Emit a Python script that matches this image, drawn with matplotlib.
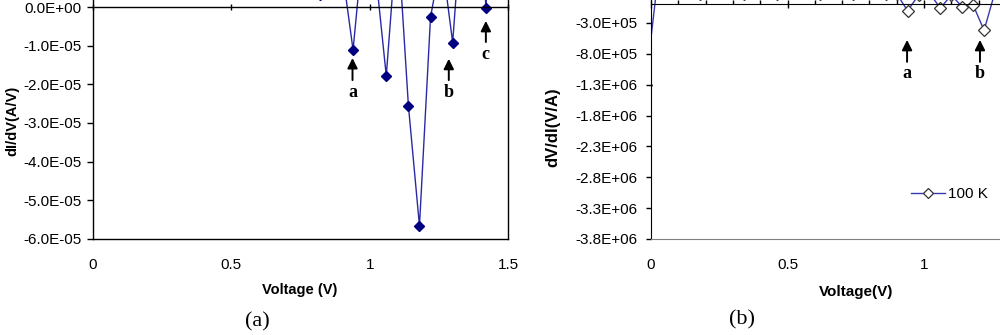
import matplotlib
matplotlib.use("Agg")
import matplotlib.pyplot as plt
from matplotlib.ticker import FixedLocator, FuncFormatter, MultipleLocator
from matplotlib.lines import Line2D

plt.rcParams['font.family'] = ['Liberation Sans', 'DejaVu Sans']

# ---------------- data ----------------
# (a) dI/dV vs voltage
volt_a = [-0.02, 0.02, 0.06, 0.10, 0.14, 0.18, 0.22, 0.26, 0.30, 0.34, 0.38,
          0.42, 0.46, 0.50, 0.54, 0.58, 0.62, 0.66, 0.70, 0.74, 0.78, 0.82,
          0.86, 0.90, 0.94, 0.98, 1.02, 1.06, 1.10, 1.14, 1.18, 1.22, 1.26,
          1.30, 1.34, 1.38, 1.42, 1.46, 1.50]
didv_a = [-0.05e-5, 0.5e-5, 3.6e-5, 3.1e-5, 2.9e-5, 2.6e-5, 2.4e-5, 2.3e-5,
          2.1e-5, 2.0e-5, 1.9e-5, 1.9e-5, 1.8e-5, 1.8e-5, 1.7e-5, 1.7e-5,
          1.6e-5, 1.6e-5, 1.5e-5, 1.4e-5, 1.2e-5, 0.3e-5, 2.0e-5, 1.0e-5,
          -1.11e-5, 1.9e-5, 1.0e-5, -1.78e-5, 2.0e-5, -2.55e-5, -5.66e-5,
          -0.26e-5, 1.3e-5, -0.92e-5, 3.0e-5, 6.0e-5, -0.03e-5, 6.0e-5, 3.0e-5]

# (b) dV/dI vs voltage, 100 K
volt_b = [-0.02, 0.02, 0.06, 0.10, 0.14, 0.18, 0.22, 0.26, 0.30, 0.34, 0.38,
          0.42, 0.46, 0.50, 0.54, 0.58, 0.62, 0.66, 0.70, 0.74, 0.78, 0.82,
          0.86, 0.90, 0.94, 0.98, 1.02, 1.06, 1.10, 1.14, 1.18, 1.22, 1.26,
          1.30, 1.34]
dvdi_b = [-1.3e6, 2.2e5, 2.0e5, 1.8e5, 2.1e5, 1.7e5, 1.9e5, 2.2e5, 1.8e5,
          1.7e5, 2.0e5, 1.9e5, 1.7e5, 1.8e5, 2.1e5, 1.9e5, 1.7e5, 1.8e5,
          2.0e5, 1.7e5, 1.8e5, 1.9e5, 1.7e5, 1.7e5, -1.0e5, 1.5e5, 1.8e5,
          -0.57e5, 1.5e5, -0.36e5, -0.08e5, -4.2e5, 2.0e5, 3.0e5, 2.5e5]
series_b_label = "100 K"

xticks_a = [0, 0.5, 1.0, 1.5]
xticks_b = [0, 0.5, 1.0]
yticks_a = [0.0, -1e-5, -2e-5, -3e-5, -4e-5, -5e-5, -6e-5]
yticks_b = [-3e5, -8e5, -1.3e6, -1.8e6, -2.3e6, -2.8e6, -3.3e6, -3.8e6]

# annotations: (label, x, head_y, tail_y, text_y)
annot_a = [("a", 0.938, -1.32e-5, -1.89e-5, -2.22e-5),
           ("b", 1.286, -1.34e-5, -1.89e-5, -2.22e-5),
           ("c", 1.420, -0.36e-5, -0.905e-5, -1.24e-5)]
annot_b = [("a", 0.938, -5.74e5, -9.3e5, -1.125e6),
           ("b", 1.205, -5.74e5, -9.3e5, -1.125e6)]

# ---------------- figure ----------------
W, H = 1000, 335
fig = plt.figure(figsize=(W / 100, H / 100), dpi=100)

def sci(v, pos=None):
    if abs(v) < 1e-20:
        v = 0.0
    return f"{v:.1E}"

def gen(v, pos=None):
    return f"{v:g}"

line_col = '#2a2aa6'
tick_fs = 11

# ----- panel (a) -----
axa = fig.add_axes([93 / W, 0.2866, 415 / W, 0.9233])
axa.plot(volt_a, didv_a, color=line_col, lw=1.0, marker='D', ms=5.2,
         mfc='#000080', mec='#000080', clip_on=True)
axa.set_xlim(0, 1.5)
axa.set_ylim(-6e-5, 2e-5)
axa.yaxis.set_major_locator(FixedLocator(yticks_a))
axa.yaxis.set_major_formatter(FuncFormatter(sci))
axa.xaxis.set_major_locator(FixedLocator(xticks_a))
axa.xaxis.set_major_formatter(FuncFormatter(gen))
axa.spines['top'].set_position(('data', 0))
for s in axa.spines.values():
    s.set_color('black')
    s.set_linewidth(1.0)
axa.tick_params(axis='y', direction='out', length=4.5, width=1, pad=4,
                labelsize=tick_fs, colors='black')
axa.tick_params(axis='x', direction='inout', length=5, width=1, top=True,
                bottom=False, labeltop=False, labelbottom=True, pad=11,
                labelsize=tick_fs)

arrow_kw = dict(arrowstyle='-|>', color='black', lw=1.4,
                mutation_scale=15, shrinkA=0, shrinkB=0)

for lab, x, hy, ty, txy in annot_a:
    axa.annotate("", xy=(x, hy), xytext=(x, ty), arrowprops=arrow_kw)
    axa.text(x, txy, lab, ha='center', va='center', fontsize=13,
             fontweight='bold', family='Liberation Serif')

# ----- panel (b) -----
axb = fig.add_axes([651 / W, 0.2866, 409.5 / W, 0.829])
axb.plot(volt_b, dvdi_b, color='#3838b0', lw=1.0, marker='D', ms=6,
         mfc='white', mec='#333333', mew=0.9, label=series_b_label)
axb.set_xlim(0, 1.5)
axb.set_ylim(-3.8e6, 7e5)
axb.yaxis.set_major_locator(FixedLocator(yticks_b))
axb.yaxis.set_major_formatter(FuncFormatter(sci))
axb.xaxis.set_major_locator(FixedLocator(xticks_b))
axb.xaxis.set_minor_locator(MultipleLocator(0.1))
axb.xaxis.set_major_formatter(FuncFormatter(gen))
axb.spines['top'].set_position(('data', 0))
axb.spines['left'].set_color('black')
axb.spines['top'].set_color('black')
axb.spines['bottom'].set_color('#808080')
axb.spines['right'].set_visible(False)
axb.tick_params(axis='y', direction='out', length=3.5, width=1, pad=6,
                labelsize=tick_fs)
axb.tick_params(axis='x', which='major', direction='inout', length=6, width=1,
                top=True, bottom=False, labeltop=False, labelbottom=True,
                pad=11, labelsize=tick_fs)
axb.tick_params(axis='x', which='minor', direction='out', length=3, width=1,
                top=True, bottom=False)

for lab, x, hy, ty, txy in annot_b:
    axb.annotate("", xy=(x, hy), xytext=(x, ty), arrowprops=arrow_kw)
    axb.text(x, txy, lab, ha='center', va='center', fontsize=13,
             fontweight='bold', family='Liberation Serif')

leg_handle = Line2D([], [], color='#3838b0', lw=1.0, marker='D', ms=5,
                    mfc='white', mec='#333333', mew=0.9)
fig.legend([leg_handle], [series_b_label], loc='center left',
           bbox_to_anchor=(911 / W, 1 - 194 / H), frameon=False,
           fontsize=11, borderpad=0, borderaxespad=0, handlelength=2.2,
           handletextpad=0.25)

# ----- axis titles and captions -----
fig.text(12 / W, 1 - 121 / H, "dI/dV(A/V)", rotation=90, ha='center',
         va='center', fontsize=10.5, fontweight='bold')
fig.text(553 / W, 1 - 127 / H, "dV/dI(V/A)", rotation=90, ha='center',
         va='center', fontsize=12, fontweight='bold')
fig.text(300 / W, 1 - 290 / H, "Voltage (V)", ha='center', va='center',
         fontsize=10.5, fontweight='bold')
fig.text(856 / W, 1 - 292 / H, "Voltage(V)", ha='center', va='center',
         fontsize=11, fontweight='bold')
fig.text(257 / W, 1 - 322 / H, "(a)", ha='center', va='center',
         fontsize=16, family='Liberation Serif')
fig.text(742 / W, 1 - 320 / H, "(b)", ha='center', va='center',
         fontsize=16, family='Liberation Serif')

fig.savefig("out.png", dpi=100)
